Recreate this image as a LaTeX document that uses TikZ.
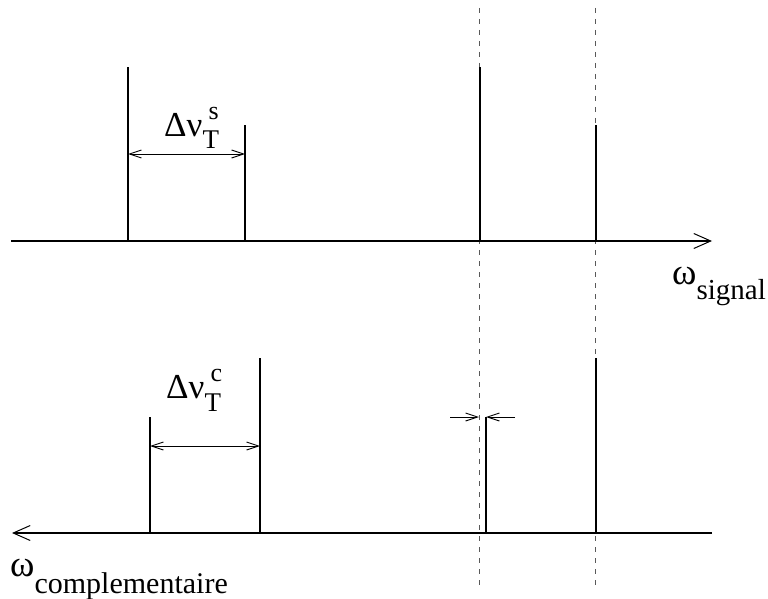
\documentclass[tikz,border=0pt]{standalone}
\usepackage{fontspec}
\setmainfont{Liberation Serif}
\usetikzlibrary{arrows.meta}
\newcommand\dnulabel[1]{{\fontsize{35}{35}\selectfont Δν}\rlap{\kern6pt\raisebox{17pt}{\fontsize{26}{26}\selectfont #1}}\raisebox{-13pt}{\fontsize{27}{27}\selectfont T}}
\begin{document}
\begin{tikzpicture}[x=1pt,y=-1pt,
  solid line/.style={line width=1.2pt, black},
  axisline/.style={line width=1.3pt, black, -{Straight Barb[length=17pt,width=15pt,line width=1pt]}},
  guide/.style={line width=0.8pt, black!65, dash pattern=on 5pt off 6pt},
  span/.style={line width=0.9pt, black, {Straight Barb[length=12pt,width=8pt]}-{Straight Barb[length=12pt,width=8pt]}},
  pinch/.style={line width=0.9pt, black, -{Straight Barb[length=12pt,width=8pt]}},
  lbl/.style={inner sep=0pt, anchor=base west}]
\useasboundingbox (0,0) rectangle (768,599);
% guides
\coordinate (g1t) at (479,8);  \coordinate (g1b) at (479,586);
\coordinate (g2t) at (595,8);  \coordinate (g2b) at (595,586);
\draw[guide] (g1t) -- (g1b);
\draw[guide] (g2t) -- (g2b);
% top axis
\coordinate (sa0) at (11,241); \coordinate (sa1) at (712,241);
\draw[axisline] (sa0) -- (sa1);
\coordinate (s1b) at (128,241); \coordinate (s1t) at (128,67);
\coordinate (s2b) at (245,241); \coordinate (s2t) at (245,125);
\coordinate (s3b) at (480,241); \coordinate (s3t) at (480,67);
\coordinate (s4b) at (596,241); \coordinate (s4t) at (596,125);
\draw[solid line] (s1b) -- (s1t);
\draw[solid line] (s2b) -- (s2t);
\draw[solid line] (s3b) -- (s3t);
\draw[solid line] (s4b) -- (s4t);
\coordinate (sl) at (128,154); \coordinate (sr) at (245,154);
\draw[span] (sl) -- (sr);
\node[lbl] (dns) at (164,136) {\dnulabel{s}};
\node[lbl] (wsig) at (672,284) {{\fontsize{37}{37}\selectfont ω}\raisebox{-15pt}{\fontsize{29}{29}\selectfont signal}};
% bottom axis
\coordinate (ca0) at (712,533); \coordinate (ca1) at (12,533);
\draw[axisline] (ca0) -- (ca1);
\coordinate (c1b) at (150,533); \coordinate (c1t) at (150,417);
\coordinate (c2b) at (260,533); \coordinate (c2t) at (260,358);
\coordinate (c3b) at (486,533); \coordinate (c3t) at (486,417);
\coordinate (c4b) at (596,533); \coordinate (c4t) at (596,358);
\draw[solid line] (c1b) -- (c1t);
\draw[solid line] (c2b) -- (c2t);
\draw[solid line] (c3b) -- (c3t);
\draw[solid line] (c4b) -- (c4t);
\coordinate (cl) at (150,446); \coordinate (cr) at (260,446);
\draw[span] (cl) -- (cr);
\node[lbl] (dnc) at (166,398) {\dnulabel{c}};
% pinch arrows
\coordinate (p1s) at (450,417); \coordinate (p1e) at (479,417);
\coordinate (p2s) at (515,417); \coordinate (p2e) at (486,417);
\draw[pinch] (p1s) -- (p1e);
\draw[pinch] (p2s) -- (p2e);
\node[lbl] (wcomp) at (10,576) {{\fontsize{37}{37}\selectfont ω}\raisebox{-17pt}{\fontsize{30}{30}\selectfont complementaire}};
\end{tikzpicture}
\end{document}
